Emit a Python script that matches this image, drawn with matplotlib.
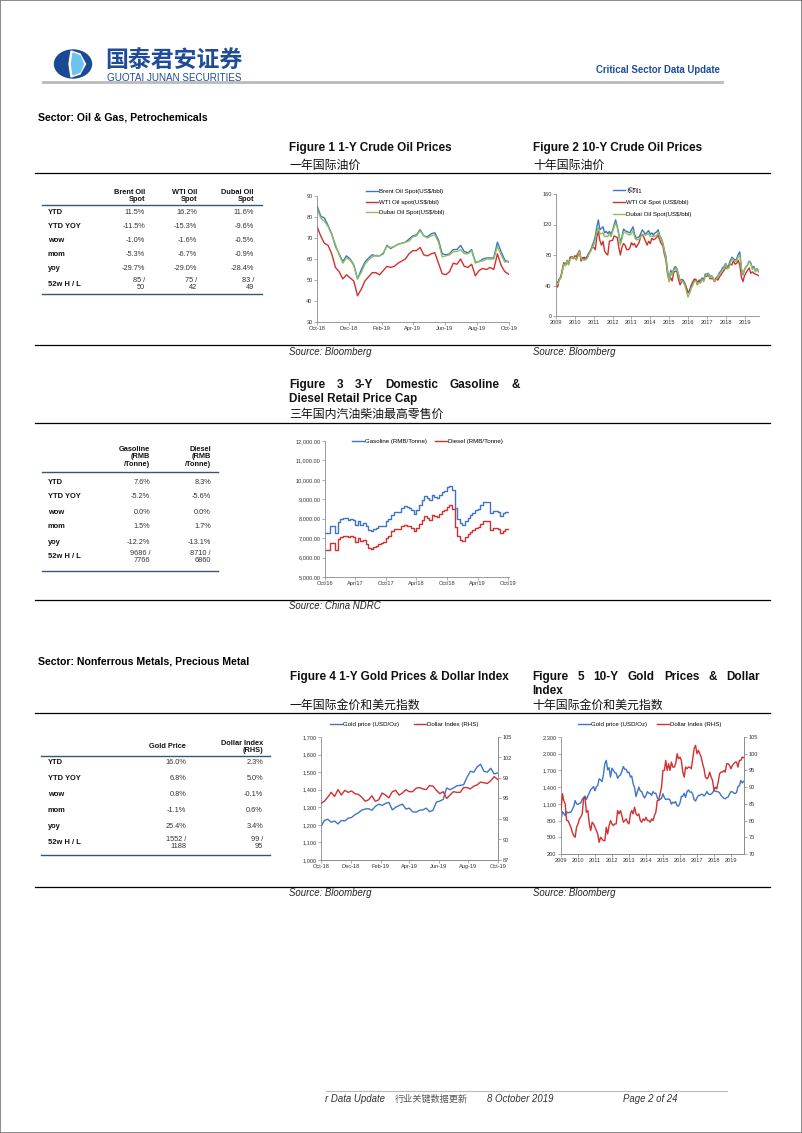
import numpy as np
import pandas as pd
import matplotlib
matplotlib.use("Agg")
import matplotlib.pyplot as plt
from matplotlib.lines import Line2D
from matplotlib.patches import Rectangle, Ellipse, Polygon
from matplotlib.ticker import FuncFormatter

plt.rcParams['font.family'] = ['Liberation Sans', 'Noto Sans CJK SC', 'DejaVu Sans']

# ---------------- data ----------------
# Figure 1: 1-Y crude oil prices, weekly from 8 Oct 2018
brent_1y = [85.5, 80.5, 79.5, 76, 72, 66, 62.5, 58.8, 61.5, 60, 57.2, 50.5, 54.8,
            58.5, 60.5, 62, 61.5, 61.5, 62.5, 66.5, 65, 66, 67, 67.5, 68,
            69.5, 71, 71.5, 74, 71, 70.5, 72, 72.5, 69, 62.5, 62, 62.5, 64.5,
            64.5, 66.5, 63.5, 63, 64.5, 58.5, 58.7, 60, 60.5, 60.5, 60.5, 68,
            63.5, 59.5, 58.5]
wti_1y = [75.5, 71, 67.5, 66.5, 62.5, 56, 54, 50.5, 52.5, 51, 49.5, 42.5, 45.5,
          49.5, 51.5, 53.5, 53.5, 52.5, 54.5, 56.5, 56, 56.5, 58, 59, 60,
          62.5, 64, 64, 65.5, 62, 61.5, 62.5, 63, 58, 53, 52.5, 54, 58,
          57.5, 60, 56.5, 56, 57.5, 52, 54.5, 55.5, 55, 56, 55, 62.5,
          57, 54, 52.8]
dubai_1y = [84, 79.5, 78, 75.5, 71.5, 67, 62, 58, 60.5, 59.5, 56.8, 50.5, 53.5,
            57.5, 59.5, 61, 61.8, 61.5, 63, 66, 65.5, 66, 67, 67.5, 68,
            68.5, 70.5, 71, 73.5, 71, 70, 71, 71.5, 68, 61, 61.5, 62, 63.5,
            63.5, 64.5, 62.5, 62.5, 64, 58, 59, 59, 60, 60, 60, 66,
            62, 58.5, 59]

# Figure 2: 10-Y crude oil prices, monthly from Jan 2009
brent_10y = [45, 44, 47, 51, 58, 69, 67, 73, 68, 75, 78, 76,
             76, 75, 80, 86, 74, 76, 75, 76, 79, 83, 86, 92,
             97, 105, 116, 126, 113, 115, 117, 109, 111, 108, 111, 107,
             112, 120, 126, 118, 108, 96, 104, 114, 112, 111, 110, 109,
             113, 117, 108, 102, 103, 104, 108, 113, 110, 107, 110, 112,
             107, 109, 106, 109, 110, 113, 106, 102, 96, 86, 78, 60,
             48, 60, 55, 62, 65, 62, 55, 46, 48, 47, 43, 37,
             30, 34, 40, 44, 48, 48, 44, 47, 47, 50, 47, 55,
             55, 56, 51, 53, 50, 46, 50, 52, 57, 59, 63, 65,
             69, 64, 67, 73, 77, 75, 73, 75, 81, 84, 62, 54,
             61, 65, 67, 72, 70, 63, 65, 59, 62, 58]
wti_10y = [40, 38, 48, 50, 60, 70, 66, 71, 68, 77, 78, 75,
           79, 78, 82, 85, 72, 76, 77, 74, 77, 82, 85, 90,
           90, 87, 103, 111, 99, 93, 98, 85, 82, 80, 98, 99,
           99, 105, 104, 103, 90, 80, 90, 95, 93, 87, 87, 89,
           96, 93, 95, 90, 93, 97, 105, 107, 103, 98, 93, 98,
           95, 102, 100, 101, 103, 106, 100, 95, 92, 81, 73, 55,
           46, 50, 46, 57, 59, 58, 48, 41, 45, 46, 41, 37,
           31, 32, 38, 44, 48, 48, 41, 45, 46, 47, 47, 53,
           52, 54, 49, 49, 49, 45, 50, 47, 51, 54, 57, 60,
           64, 62, 65, 68, 67, 73, 68, 69, 73, 67, 51, 45,
           53, 57, 60, 63, 56, 58, 56, 55, 54, 53]
dubai_10y = [43, 42, 46, 50, 58, 68, 66, 72, 67, 74, 77, 76,
             76, 73, 78, 85, 75, 74, 73, 74, 76, 81, 85, 90,
             93, 100, 109, 116, 108, 108, 109, 104, 105, 104, 108, 104,
             110, 117, 122, 116, 106, 93, 101, 110, 110, 108, 107, 106,
             108, 112, 104, 100, 100, 101, 104, 107, 107, 106, 107, 108,
             104, 105, 104, 105, 105, 109, 105, 101, 95, 85, 75, 58,
             45, 57, 53, 60, 63, 60, 54, 46, 45, 45, 40, 33,
             25, 29, 36, 40, 45, 46, 42, 44, 43, 48, 45, 53,
             54, 55, 50, 52, 50, 46, 48, 51, 55, 57, 61, 62,
             68, 62, 63, 70, 75, 73, 72, 72, 78, 80, 62, 55,
             60, 65, 67, 71, 69, 61, 63, 58, 62, 59]

# Figure 3: retail price caps, half-monthly steps from Oct 2016
gasoline = [7250, 7250, 7600, 7600, 7250, 7850, 8000, 8050, 8050, 7950, 8000, 7950,
            7700, 7900, 7700, 7800, 7600, 7400, 7350, 7450, 7500, 7600, 7600, 7650,
            7900, 8000, 8200, 8350, 8350, 8350, 8550, 8650, 8600, 8550, 8450, 8250,
            8450, 8700, 8950, 9150, 9050, 8950, 9200, 9100, 9050, 9200, 9400, 9450,
            9650, 9700, 9500, 8550, 8000, 7800, 7700, 7900, 8050, 8200, 8300, 8450,
            8500, 8700, 8850, 8850, 8850, 8300, 8400, 8400, 8350, 8150, 8300, 8350,
            8350]
diesel = [6400, 6400, 6750, 6750, 6400, 6950, 7050, 7100, 7100, 7050, 7100, 7050,
          6800, 7000, 6850, 6900, 6700, 6500, 6450, 6550, 6600, 6700, 6750, 6800,
          7000, 7100, 7350, 7450, 7450, 7450, 7600, 7700, 7650, 7600, 7500, 7350,
          7500, 7750, 7950, 8150, 8050, 7950, 8200, 8150, 8100, 8250, 8400, 8450,
          8600, 8700, 8500, 7550, 7100, 6900, 6850, 7050, 7200, 7300, 7400, 7500,
          7550, 7750, 7900, 7900, 7900, 7400, 7500, 7500, 7450, 7250, 7350, 7450,
          7450]

# Figure 4: 1-Y gold and dollar index, weekly from 8 Oct 2018
gold_1y = [1190, 1225, 1232, 1215, 1222, 1205, 1225, 1222, 1238, 1242, 1258, 1268, 1284,
           1290, 1292, 1283, 1305, 1318, 1310, 1322, 1328, 1285, 1300, 1310, 1318,
           1290, 1295, 1275, 1272, 1283, 1285, 1295, 1275, 1283, 1330, 1335, 1345, 1410,
           1400, 1410, 1422, 1425, 1428, 1470, 1505, 1500, 1530, 1545, 1505, 1500,
           1522, 1490, 1495]
dxy_1y = [95.3, 95.6, 96.2, 96.9, 96.3, 97.3, 96.5, 97.2, 96.9, 97.1, 96.7, 96.6, 96.2,
          95.6, 95.8, 96.4, 95.6, 95.8, 96.8, 96.5, 96.1, 97.0, 97.2, 96.5, 96.8,
          97.3, 97.0, 97.0, 97.5, 97.6, 97.4, 97.3, 97.9, 97.8, 97.2, 96.7, 97.0, 96.0,
          96.5, 97.0, 96.9, 96.9, 97.6, 97.6, 97.4, 97.8, 98.0, 98.4, 98.3, 98.2,
          98.6, 99.2, 98.8]

# Figure 5: 10-Y gold and dollar index, monthly from Jan 2009
gold_10y = [810, 960, 930, 890, 960, 935, 950, 950, 1000, 1050, 1160, 1100,
            1090, 1110, 1115, 1180, 1215, 1240, 1180, 1240, 1300, 1355, 1380, 1410,
            1335, 1410, 1430, 1550, 1530, 1500, 1620, 1820, 1880, 1710, 1750, 1580,
            1740, 1700, 1660, 1650, 1560, 1600, 1620, 1680, 1770, 1720, 1720, 1660,
            1670, 1580, 1600, 1460, 1390, 1230, 1320, 1400, 1330, 1320, 1250, 1205,
            1250, 1320, 1290, 1290, 1250, 1320, 1290, 1290, 1210, 1170, 1180, 1200,
            1280, 1210, 1180, 1180, 1190, 1170, 1095, 1130, 1115, 1140, 1065, 1060,
            1115, 1235, 1235, 1290, 1215, 1320, 1350, 1310, 1315, 1275, 1175, 1150,
            1210, 1250, 1250, 1270, 1270, 1240, 1270, 1320, 1280, 1270, 1275, 1300,
            1345, 1320, 1325, 1315, 1300, 1250, 1225, 1200, 1190, 1215, 1220, 1280,
            1320, 1315, 1295, 1285, 1305, 1410, 1425, 1520, 1475, 1505]
dxy_10y = [83, 88, 86, 85, 80, 80, 79, 78, 76.5, 75.5, 75, 78,
           79, 80.5, 81, 82, 86.5, 87, 82.5, 83, 79, 77, 79.5, 79,
           78, 77, 76, 73.5, 75, 74.5, 74, 74, 78, 76, 78.5, 80,
           79, 78.5, 79, 79, 83, 82, 83, 81.5, 79.5, 80, 80.5, 79.5,
           79, 82, 83, 82, 84, 82, 81.5, 82, 80, 79.5, 80.5, 80,
           81, 80, 80, 79.5, 80.5, 80, 81.5, 82.5, 86, 86, 88, 90,
           95, 95, 98, 95, 97, 95, 97.5, 96, 96, 97, 100, 98.5,
           99, 98, 94.5, 93, 96, 95.5, 96, 96, 95.5, 98.5, 101.5, 102.5,
           100, 101, 100, 99, 97, 95.5, 93, 92.5, 93, 94.5, 93, 92,
           89, 90, 89.5, 91.5, 94, 94.5, 94.5, 95, 94.5, 97, 97, 96.5,
           95.5, 96.5, 97, 97.5, 97.5, 96, 98, 98, 99, 98.8]

# tables
row_labels = ['YTD', 'YTD YOY', 'wow', 'mom', 'yoy', '52w H / L']
oil_cols = ['Brent Oil\nSpot', 'WTI Oil\nSpot', 'Dubai Oil\nSpot']
oil_vals = [['11.5%', '16.2%', '11.6%'],
            ['-11.5%', '-15.3%', '-9.6%'],
            ['-1.0%', '-1.6%', '-0.5%'],
            ['-5.3%', '-6.7%', '-0.9%'],
            ['-29.7%', '-29.0%', '-28.4%'],
            ['85 /\n50', '75 /\n42', '83 /\n49']]
fuel_cols = ['Gasoline\n(RMB\n/Tonne)', 'Diesel\n(RMB\n/Tonne)']
fuel_vals = [['7.6%', '8.3%'],
             ['-5.2%', '-5.6%'],
             ['0.0%', '0.0%'],
             ['1.5%', '1.7%'],
             ['-12.2%', '-13.1%'],
             ['9686 /\n7766', '8710 /\n6860']]
gold_cols = ['Gold Price', 'Dollar Index\n(RHS)']
gold_vals = [['16.0%', '2.3%'],
             ['6.8%', '5.0%'],
             ['0.8%', '-0.1%'],
             ['-1.1%', '0.6%'],
             ['25.4%', '3.4%'],
             ['1552 /\n1188', '99 /\n95']]

# ---------------- page ----------------
W, H = 802, 1133
fig = plt.figure(figsize=(W / 100, H / 100), dpi=100)

BLUE = '#3F74C6'
RED = '#D0302F'
GREEN = '#8DC05A'
AXC = '#8C8C8C'
NAVY = '#1F4C98'


def fx(x):
    return x / W


def fy(y):
    return 1 - y / H


def txt(x, y, s, **kw):
    kw.setdefault('va', 'center')
    return fig.text(fx(x), fy(y), s, **kw)


def justify(words, x0, x1, y, **kw):
    # spread the words of one title line across x0..x1 (justified paragraph)
    r = fig.canvas.get_renderer()
    ts = [txt(x0, y, w, **kw) for w in words]
    ws = [t.get_window_extent(r).width for t in ts]
    gap = (x1 - x0 - sum(ws)) / (len(ws) - 1)
    x = x0
    for t, w in zip(ts, ws):
        t.set_x(fx(x))
        x += w + gap


def hline(y, x0, x1, lw=0.8, color='black'):
    fig.add_artist(Line2D([fx(x0), fx(x1)], [fy(y), fy(y)], lw=lw, color=color))


def axes_px(x0, y0, x1, y1):
    return fig.add_axes([fx(x0), fy(y1), fx(x1) - fx(x0), fy(y0) - fy(y1)])


def style(ax, right=False):
    ax.spines['top'].set_visible(False)
    ax.spines['right'].set_visible(right)
    for s in ['left', 'bottom', 'right']:
        ax.spines[s].set_color(AXC)
        ax.spines[s].set_linewidth(0.6)
    ax.tick_params(labelsize=4.1, length=2, width=0.5, color=AXC,
                   labelcolor='#333333', pad=1.2)
    ax.patch.set_alpha(0)


def legend(ax, lines, labels, x, y, ncol=1, colsp=1.0, lsp=0.8):
    ax.legend(lines, labels, loc='upper left', bbox_to_anchor=(fx(x), fy(y)),
              bbox_transform=fig.transFigure, frameon=False, fontsize=4.4,
              ncol=ncol, columnspacing=colsp, labelspacing=lsp,
              handlelength=1.9, handletextpad=0.25, borderpad=0, borderaxespad=0)


comma = FuncFormatter(lambda v, p: f'{v:,.0f}')

# page border
fig.add_artist(Rectangle((0, 0), 1, 1, transform=fig.transFigure, fill=False,
                         edgecolor='#777777', lw=1.2))

# header / logo
fig.add_artist(Ellipse((fx(73), fy(64)), 37 / W, 28 / H, transform=fig.transFigure,
                       color='#1A4A94'))
fig.add_artist(Polygon([(fx(71), fy(51)), (fx(80), fy(54)), (fx(85.5), fy(64)),
                        (fx(80), fy(74)), (fx(71), fy(77)), (fx(69), fy(64))],
                       closed=True, transform=fig.transFigure, color='white'))
fig.add_artist(Polygon([(fx(73), fy(53)), (fx(80), fy(56)), (fx(83.5), fy(64)),
                        (fx(80), fy(72)), (fx(73), fy(75)), (fx(71.5), fy(64))],
                       closed=True, transform=fig.transFigure, color='#6CC4EE'))
txt(105, 68, '国泰君安证券', fontsize=16.5, color=NAVY, fontweight='bold',
    family=['Noto Sans CJK SC'], va='baseline')
txt(107, 73.2, 'GUOTAI JUNAN SECURITIES', fontsize=7.1, color=NAVY, va='top')
txt(720, 70, 'Critical Sector Data Update', fontsize=6.9, color=NAVY,
    fontweight='bold', ha='right')
hline(81.5, 43, 722, lw=2.0, color='#BBBBBB')

# section rules
for yy in [173, 345, 423, 600, 713, 887]:
    hline(yy, 35, 770, lw=0.9)

TF = dict(fontsize=8.5, fontweight='bold', color='#111111')
CF = dict(fontsize=8.6, color='#111111', family=['Noto Sans CJK SC'])
SF = dict(fontsize=6.9, style='italic', color='#222222')

txt(38, 117, 'Sector: Oil & Gas, Petrochemicals', fontsize=7.6, fontweight='bold')
txt(289, 148, 'Figure 1 1-Y Crude Oil Prices', **TF)
txt(289, 165, '一年国际油价', **CF)
txt(533, 148, 'Figure 2 10-Y Crude Oil Prices', **TF)
txt(533, 165, '十年国际油价', **CF)
txt(289, 352, 'Source: Bloomberg', **SF)
txt(533, 352, 'Source: Bloomberg', **SF)

justify(['Figure', '3', '3-Y', 'Domestic', 'Gasoline', '&'], 289, 520, 385, **TF)
txt(289, 399, 'Diesel Retail Price Cap', **TF)
txt(289, 414, '三年国内汽油柴油最高零售价', **CF)
txt(289, 606, 'Source: China NDRC', **SF)

txt(38, 662, 'Sector: Nonferrous Metals, Precious Metal', fontsize=7.6, fontweight='bold')
txt(290, 677, 'Figure 4 1-Y Gold Prices & Dollar Index', **TF)
txt(290, 705, '一年国际金价和美元指数', **CF)
justify(['Figure', '5', '10-Y', 'Gold', 'Prices', '&', 'Dollar'], 532, 760, 677, **TF)
txt(532, 691, 'Index', **TF)
txt(532, 705, '十年国际金价和美元指数', **CF)
txt(289, 893, 'Source: Bloomberg', **SF)
txt(533, 893, 'Source: Bloomberg', **SF)

# footer
hline(1091, 326, 727, lw=0.8, color='#BBBBBB')
FF = dict(fontsize=6.9, style='italic', color='#333333')
txt(325, 1099, 'r Data Update', **FF)
txt(395, 1099, '行业关键数据更新', fontsize=6.6, color='#555555', family=['Noto Sans CJK SC'])
txt(487, 1099, '8 October 2019', **FF)
txt(623, 1099, 'Page 2 of 24', **FF)


# ---------------- tables ----------------
def table(cols, col_x, head_y, vals, row_y, line_head, line_bot, x0, x1):
    for c, cx in zip(cols, col_x):
        txt(cx, head_y, c, ha='right', multialignment='right', fontsize=5.3,
            fontweight='bold', linespacing=1.05, color='#111111')
    for lab, ry, row in zip(row_labels, row_y, vals):
        txt(48, ry, lab, fontsize=5.4, fontweight='bold', color='#111111')
        for v, cx in zip(row, col_x):
            txt(cx, ry, v, ha='right', multialignment='right', fontsize=5.3,
                linespacing=1.0, color='#333333')
    hline(line_head, x0, x1, lw=1.0, color='#3A5673')
    hline(line_bot, x0, x1, lw=1.0, color='#3A5673')


table(oil_cols, [145, 197, 254], 196, oil_vals,
      [213, 227, 241, 255, 269, 284], 205, 294, 42, 262)
table(fuel_cols, [150, 211], 457, fuel_vals,
      [482, 497, 512, 527, 542, 557], 472, 571, 42, 218)
table(gold_cols, [186, 263], 747, gold_vals,
      [763, 779, 795, 810, 826, 843], 756, 855, 41, 270)

# ---------------- charts ----------------
d1y = pd.date_range('2018-10-08', periods=len(brent_1y), freq='7D')
t1y = pd.to_datetime(['2018-10-08', '2018-12-08', '2019-02-08', '2019-04-08',
                      '2019-06-08', '2019-08-08', '2019-10-08'])
l1y = ['Oct-18', 'Dec-18', 'Feb-19', 'Apr-19', 'Jun-19', 'Aug-19', 'Oct-19']
d10y = pd.date_range('2009-01-01', periods=len(brent_10y), freq='MS')
t10y = pd.to_datetime([f'{y}-01-01' for y in range(2009, 2020)])
l10y = [str(y) for y in range(2009, 2020)]

# Figure 1
ax1 = axes_px(317, 196, 509, 322)
style(ax1)
a, = ax1.plot(d1y, brent_1y, color=BLUE, lw=1.0)
c, = ax1.plot(d1y, dubai_1y, color=GREEN, lw=1.0)
b, = ax1.plot(d1y, wti_1y, color=RED, lw=1.0)
ax1.set_ylim(30, 90)
ax1.set_yticks(range(30, 91, 10))
ax1.set_xlim(t1y[0], t1y[-1])
ax1.set_xticks(t1y, l1y)
legend(ax1, [a, b, c], ['Brent Oil Spot(US$/bbl)', 'WTI Oil spot(US$/bbl)',
                        'Dubai Oil Spot(US$/bbl)'], 366, 189, lsp=0.85)

# Figure 2
ax2 = axes_px(556, 194, 759, 316)
style(ax2)
a, = ax2.plot(d10y, brent_10y, color=BLUE, lw=1.0)
b, = ax2.plot(d10y, wti_10y, color=RED, lw=1.0)
c, = ax2.plot(d10y, dubai_10y, color=GREEN, lw=1.0)
ax2.set_ylim(0, 160)
ax2.set_yticks(range(0, 161, 40))
ax2.set_xlim(pd.Timestamp('2009-01-01'), pd.Timestamp('2019-10-08'))
ax2.set_xticks(t10y, l10y)
legend(ax2, [a, b, c], ['系列1', 'WTI Oil Spot (US$/bbl)', 'Dubai Oil Spot(US$/bbl)'],
       613, 188, lsp=1.05)

# Figure 3
d3y = pd.date_range('2016-10-01', periods=len(gasoline), freq='SMS')
t3y = pd.to_datetime(['2016-10-01', '2017-04-01', '2017-10-01', '2018-04-01',
                      '2018-10-01', '2019-04-01', '2019-10-01'])
l3y = ["Oct/16", "Apr/17", "Oct/17", "Apr/18", "Oct/18", "Apr/19", "Oct/19"]
ax3 = axes_px(325, 441, 509, 577)
style(ax3)
a, = ax3.step(d3y, gasoline, where='post', color=BLUE, lw=1.0)
b, = ax3.step(d3y, diesel, where='post', color=RED, lw=1.0)
ax3.set_ylim(5000, 12000)
ax3.set_yticks(range(5000, 12001, 1000))
ax3.yaxis.set_major_formatter(FuncFormatter(lambda v, p: f'{v:,.2f}'))
ax3.set_xlim(t3y[0], pd.Timestamp('2019-10-06'))
ax3.set_xticks(t3y, l3y)
legend(ax3, [a, b], ['Gasoline (RMB/Tonne)', 'Diesel (RMB/Tonne)'], 352, 439,
       ncol=2, colsp=1.3)

# Figure 4
ax4 = axes_px(321, 737, 498, 860)
style(ax4, right=True)
ax4r = ax4.twinx()
style(ax4r, right=True)
ax4r.spines['left'].set_visible(False)
a, = ax4.plot(d1y, gold_1y, color=BLUE, lw=1.0)
b, = ax4r.plot(d1y, dxy_1y, color=RED, lw=1.0)
ax4.set_ylim(1000, 1700)
ax4.set_yticks(range(1000, 1701, 100))
ax4.yaxis.set_major_formatter(comma)
ax4r.set_ylim(87, 105)
ax4r.set_yticks(range(87, 106, 3))
ax4.set_xlim(t1y[0], t1y[-1])
ax4.set_xticks(t1y, l1y)
legend(ax4, [a, b], ['Gold price (USD/Oz)', 'Dollar Index (RHS)'], 330, 722,
       ncol=2, colsp=2.4)

# Figure 5
ax5 = axes_px(561, 737, 744, 854)
style(ax5, right=True)
ax5r = ax5.twinx()
style(ax5r, right=True)
ax5r.spines['left'].set_visible(False)
a, = ax5.plot(d10y, gold_10y, color=BLUE, lw=1.0)
b, = ax5r.plot(d10y, dxy_10y, color=RED, lw=1.0)
ax5.set_ylim(200, 2300)
ax5.set_yticks(range(200, 2301, 300))
ax5.yaxis.set_major_formatter(comma)
ax5r.set_ylim(70, 105)
ax5r.set_yticks(range(70, 106, 5))
ax5.set_xlim(pd.Timestamp('2009-01-01'), pd.Timestamp('2019-10-08'))
ax5.set_xticks(t10y, l10y)
legend(ax5, [a, b], ['Gold price (USD/Oz)', 'Dollar Index (RHS)'], 578, 722,
       ncol=2, colsp=1.6)

fig.savefig('out.png', dpi=100)
